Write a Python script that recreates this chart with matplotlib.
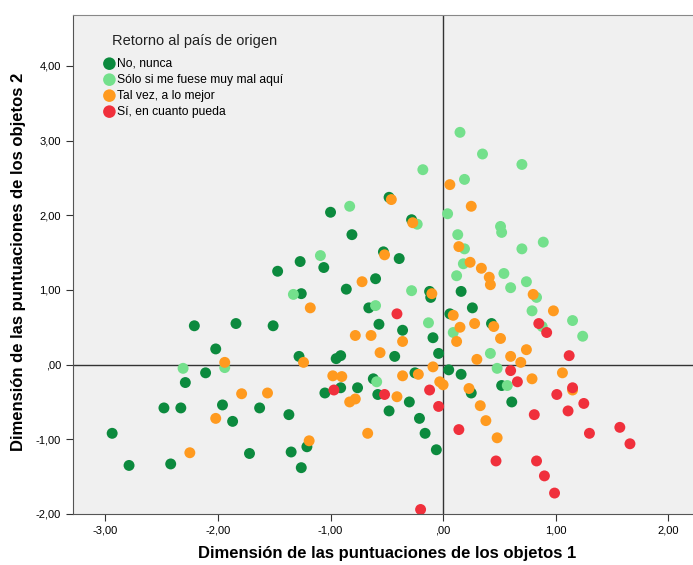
import matplotlib.pyplot as plt
from matplotlib.ticker import FuncFormatter

plt.rcParams['font.family'] = ['Liberation Sans', 'DejaVu Sans']

# No, nunca
nunca_x = [-2.94, -2.79, -2.42, -2.48, -2.33, -2.02, -2.11, -2.29, -1.96, -1.87,
           -1.63, -1.72, -2.21, -1.84, -1.51, -1.47, -0.48, -1.00, -0.28, -0.81,
           -0.53, -0.39, -1.27, -1.06, -0.60, -0.86, -1.26, -0.12, -0.11, 0.16,
           -0.66, 0.26, 0.06, -0.57, -0.36, -0.09, 0.43, -0.04, -1.28, -0.95,
           -0.91, -0.43, 0.05, 0.16, -0.25, -0.62, -0.91, -0.76, -1.05, -0.58,
           -0.30, -0.48, -0.21, -0.16, -0.06, -1.37, -1.21, -1.35, -1.26, 0.25,
           0.52, 0.61]
nunca_y = [-0.92, -1.35, -1.33, -0.58, -0.58, 0.21, -0.11, -0.24, -0.54, -0.76,
           -0.58, -1.19, 0.52, 0.55, 0.52, 1.25, 2.24, 2.04, 1.94, 1.74,
           1.51, 1.42, 1.38, 1.30, 1.15, 1.01, 0.95, 0.98, 0.90, 0.98,
           0.76, 0.76, 0.68, 0.54, 0.46, 0.36, 0.55, 0.15, 0.11, 0.08,
           0.12, 0.11, -0.07, -0.13, -0.11, -0.19, -0.31, -0.31, -0.38, -0.40,
           -0.50, -0.62, -0.72, -0.92, -1.14, -0.67, -1.10, -1.17, -1.38, -0.38,
           -0.28, -0.50]

# Sólo si me fuese muy mal aquí
malaqui_x = [-2.31, -1.94, 0.15, 0.35, -0.18, 0.19, -0.83, 0.04, -0.23, 0.13,
             0.19, -1.09, 0.18, 0.12, -0.28, -1.33, -0.60, -0.13, 0.09, 0.70,
             0.51, 0.52, 0.70, 0.89, 0.54, 0.74, 0.60, 0.83, 0.79, 1.15,
             1.24, 0.88, -0.59, 0.42, 0.48, 0.57]
malaqui_y = [-0.05, -0.04, 3.11, 2.82, 2.61, 2.48, 2.12, 2.02, 1.88, 1.74,
             1.55, 1.46, 1.35, 1.19, 0.99, 0.94, 0.79, 0.56, 0.43, 2.68,
             1.85, 1.77, 1.55, 1.64, 1.22, 1.11, 1.03, 0.90, 0.72, 0.59,
             0.38, 0.51, -0.23, 0.15, -0.05, -0.28]

# Tal vez, a lo mejor
talvez_x = [-1.94, -1.79, -1.56, -2.02, -2.25, -0.46, -0.27, 0.06, 0.25, 0.14,
            0.24, 0.34, 0.41, 0.42, -0.52, -0.72, -0.10, -1.18, 0.09, 0.15,
            0.28, -0.78, -0.64, -0.36, 0.12, 0.80, 0.98, 0.45, 0.51, -0.56,
            0.30, -1.24, -0.09, -0.98, -0.90, -0.36, -0.22, -0.03, 0.00, 0.23,
            -0.41, -0.78, -0.83, 0.33, 0.38, -1.19, -0.67, 0.74, 0.60, 0.69,
            1.06, 0.79, 1.15, 0.48]
talvez_y = [0.03, -0.39, -0.38, -0.72, -1.18, 2.21, 1.90, 2.41, 2.12, 1.58,
            1.37, 1.29, 1.17, 1.07, 1.47, 1.11, 0.95, 0.76, 0.66, 0.50,
            0.55, 0.39, 0.39, 0.31, 0.31, 0.94, 0.72, 0.51, 0.35, 0.16,
            0.07, 0.03, -0.03, -0.15, -0.16, -0.15, -0.13, -0.23, -0.27, -0.32,
            -0.43, -0.46, -0.50, -0.55, -0.75, -1.02, -0.92, 0.20, 0.11, 0.03,
            -0.11, -0.19, -0.34, -0.98]

# Sí, en cuanto pueda
si_x = [-0.41, -0.97, -0.52, -0.12, -0.04, 0.14, -0.20, 0.85, 0.92, 1.12,
        0.60, 0.66, 1.15, 1.01, 1.25, 1.11, 0.81, 1.30, 1.57, 1.66,
        0.47, 0.83, 0.90, 0.99]
si_y = [0.68, -0.34, -0.40, -0.34, -0.56, -0.87, -1.94, 0.55, 0.43, 0.12,
        -0.08, -0.23, -0.31, -0.40, -0.52, -0.62, -0.67, -0.92, -0.84, -1.06,
        -1.29, -1.29, -1.49, -1.72]

series = [
    ("No, nunca", nunca_x, nunca_y, "#0c8a3e"),
    ("Sólo si me fuese muy mal aquí", malaqui_x, malaqui_y, "#74e08c"),
    ("Tal vez, a lo mejor", talvez_x, talvez_y, "#ff9a1f"),
    ("Sí, en cuanto pueda", si_x, si_y, "#f0303c"),
]

fig = plt.figure(figsize=(6.93, 5.65), dpi=100)
ax = fig.add_axes([0.105, 0.0903, 0.895, 0.883])
ax.set_facecolor("#f0f0f0")

ax.axhline(0, color="#333333", lw=1, zorder=1)
ax.axvline(0, color="#333333", lw=1, zorder=1)

for name, xs, ys, col in series:
    ax.scatter(xs, ys, s=62, color=col, edgecolors="none", label=name, zorder=2)

ax.set_xlim(-3.29, 2.22)
ax.set_ylim(-2.0, 4.68)
ax.set_xticks([-3, -2, -1, 0, 1, 2])
ax.set_yticks([-2, -1, 0, 1, 2, 3, 4])


def fmt(v, pos):
    s = "%.2f" % v
    s = s.replace(".", ",")
    if s.startswith("0,"):
        s = s[1:]
    return s


ax.xaxis.set_major_formatter(FuncFormatter(fmt))
ax.yaxis.set_major_formatter(FuncFormatter(fmt))
ax.tick_params(labelsize=8, length=5, color="#333333", direction="out")

ax.spines["right"].set_visible(False)
ax.spines["top"].set_color("#888888")
ax.spines["left"].set_color("#555555")
ax.spines["bottom"].set_color("#555555")

# axis titles placed as figure text
fig.text(0.558, 0.021, "Dimensión de las puntuaciones de los objetos 1",
         fontsize=12, fontweight="bold", ha="center", va="center")
fig.text(0.027, 0.536, "Dimensión de las puntuaciones de los objetos 2",
         fontsize=12, fontweight="bold", ha="center", va="center", rotation=90)

# legend title drawn separately to get the wider gap seen in the original
ax.text(0.064, 0.948, "Retorno al país de origen", transform=ax.transAxes,
        fontsize=10.5, color="#222222", va="center", ha="left")
leg = ax.legend(loc="upper left", bbox_to_anchor=(0.0386, 0.924), frameon=False,
                fontsize=8.7, handletextpad=0.0, handlelength=1.3,
                labelspacing=0.33, markerscale=1.15, borderaxespad=0)

fig.savefig("out.png", dpi=100)
